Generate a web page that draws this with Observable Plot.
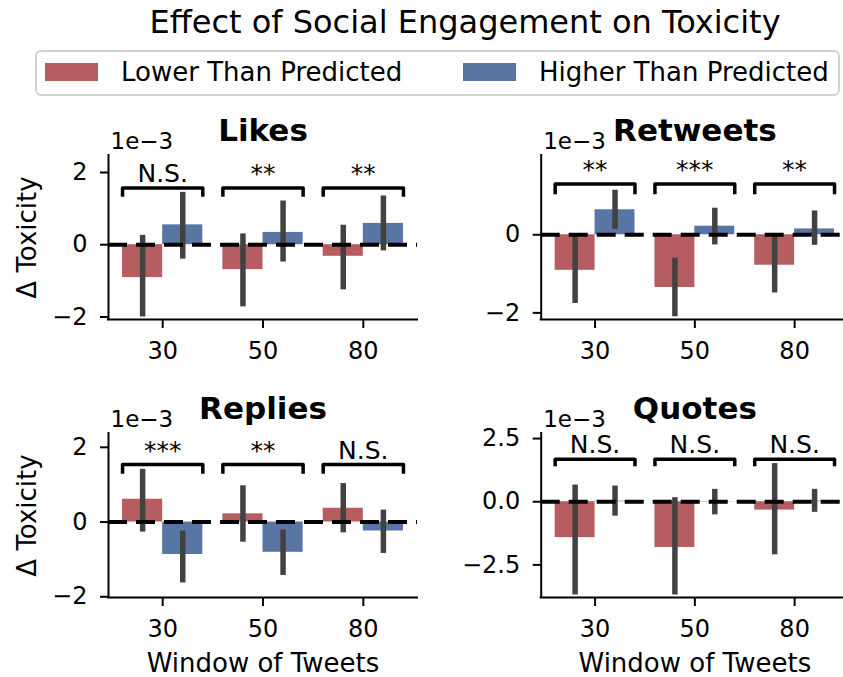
<!DOCTYPE html>
<html><head><meta charset="utf-8">
<script src="https://cdn.jsdelivr.net/npm/d3@7"></script>
<script src="https://cdn.jsdelivr.net/npm/@observablehq/plot@0.6"></script>
<style>
html,body{margin:0;padding:0;background:#fff;overflow:hidden}
#root{position:relative;width:843px;height:677px;overflow:hidden;font-family:"DejaVu Sans",sans-serif;color:#000;background:#fff}
.abs{position:absolute}
</style></head><body><div id="root"></div>
<script>
// ---- data (values in units of 1e-3) ----
const windows = ["30", "50", "80"];
const seriesNames = ["Lower Than Predicted", "Higher Than Predicted"];
const seriesColors = ["#b55d60", "#5975a4"];

const likesLower = [-0.91, -0.69, -0.32];
const likesLowerCI = [[-2.00, 0.26], [-1.72, 0.30], [-1.25, 0.54]];
const likesHigher = [0.55, 0.34, 0.59];
const likesHigherCI = [[-0.40, 1.45], [-0.48, 1.21], [-0.17, 1.35]];
const likesSig = ["N.S.", "**", "**"];

const retweetsLower = [-0.91, -1.35, -0.78];
const retweetsLowerCI = [[-1.76, -0.04], [-2.10, -0.60], [-1.49, -0.04]];
const retweetsHigher = [0.64, 0.22, 0.15];
const retweetsHigherCI = [[0.14, 1.14], [-0.26, 0.68], [-0.27, 0.61]];
const retweetsSig = ["**", "***", "**"];

const repliesLower = [0.61, 0.22, 0.37];
const repliesLowerCI = [[-0.27, 1.41], [-0.54, 0.97], [-0.29, 1.03]];
const repliesHigher = [-0.87, -0.81, -0.24];
const repliesHigherCI = [[-1.63, -0.24], [-1.43, -0.21], [-0.84, 0.32]];
const repliesSig = ["***", "**", "N.S."];

const quotesLower = [-1.42, -1.81, -0.33];
const quotesLowerCI = [[-3.69, 0.66], [-3.69, 0.16], [-2.10, 1.51]];
const quotesHigher = [0.02, 0.01, 0.02];
const quotesHigherCI = [[-0.57, 0.62], [-0.52, 0.49], [-0.42, 0.49]];
const quotesSig = ["N.S.", "N.S.", "N.S."];

const yTicksSmall = [-2, 0, 2];
const yTicksRetweets = [-2, 0];
const yTicksQuotes = [-2.5, 0, 2.5];

// ---- layout ----
const root = document.getElementById("root");
const FONT = "DejaVu Sans";

const panels = [
  {title: "Likes", lower: likesLower, lowerCI: likesLowerCI, higher: likesHigher, higherCI: likesHigherCI, sig: likesSig,
   yDomain: [-2.07, 2.47], yTicks: yTicksSmall, fmt: d3.format(".0f"), bracket: [1.33, 1.57],
   col: 0, row: 0},
  {title: "Retweets", lower: retweetsLower, lowerCI: retweetsLowerCI, higher: retweetsHigher, higherCI: retweetsHigherCI, sig: retweetsSig,
   yDomain: [-2.17, 2.03], yTicks: yTicksRetweets, fmt: d3.format(".0f"), bracket: [1.04, 1.30],
   col: 1, row: 0},
  {title: "Replies", lower: repliesLower, lowerCI: repliesLowerCI, higher: repliesHigher, higherCI: repliesHigherCI, sig: repliesSig,
   yDomain: [-2.02, 2.37], yTicks: yTicksSmall, fmt: d3.format(".0f"), bracket: [1.29, 1.54],
   col: 0, row: 1},
  {title: "Quotes", lower: quotesLower, lowerCI: quotesLowerCI, higher: quotesHigher, higherCI: quotesHigherCI, sig: quotesSig,
   yDomain: [-3.79, 2.70], yTicks: yTicksQuotes, fmt: d3.format(".1f"), bracket: [1.40, 1.68],
   col: 1, row: 1}
];

const cols = [
  {svgLeft: 0, svgWidth: 425, frame: [108, 417]},
  {svgLeft: 425, svgWidth: 423, frame: [540.7, 848]}
];
const rows = [
  {svgTop: 100, svgHeight: 275, frame: [155, 319]},
  {svgTop: 378, svgHeight: 299, frame: [433, 597]}
];

// ---- title ----
const title = document.createElement("div");
title.className = "abs";
Object.assign(title.style, {left: "65px", width: "800px", top: "6px", textAlign: "center",
  fontSize: "32px", lineHeight: "32px", whiteSpace: "nowrap"});
title.textContent = "Effect of Social Engagement on Toxicity";
root.appendChild(title);

// ---- legend ----
const legend = document.createElement("div");
legend.className = "abs";
Object.assign(legend.style, {left: "35px", top: "50px", width: "801px", height: "42px",
  border: "2px solid #d2d2d2", borderRadius: "6px", background: "rgba(255,255,255,0.8)"});
root.appendChild(legend);
const legendItems = [{sw: 45, tx: 121}, {sw: 463, tx: 539}];
seriesNames.forEach((name, k) => {
  const sw = document.createElement("div");
  sw.className = "abs";
  Object.assign(sw.style, {left: legendItems[k].sw + "px", top: "63px", width: "53px", height: "18px", background: seriesColors[k]});
  root.appendChild(sw);
  const tx = document.createElement("div");
  tx.className = "abs";
  Object.assign(tx.style, {left: legendItems[k].tx + "px", top: "59px", fontSize: "26px", lineHeight: "26px", whiteSpace: "nowrap"});
  tx.textContent = name;
  root.appendChild(tx);
});

// ---- panels ----
const xDomain = [-0.54, 2.54];
for (const p of panels) {
  const c = cols[p.col], r = rows[p.row];
  const table = windows.flatMap((w, i) => [
    {i, s: 0, series: seriesNames[0], value: p.lower[i], lo: p.lowerCI[i][0], hi: p.lowerCI[i][1]},
    {i, s: 1, series: seriesNames[1], value: p.higher[i], lo: p.higherCI[i][0], hi: p.higherCI[i][1]}
  ]);
  const sigRows = windows.map((w, i) => ({i, label: p.sig[i]}));
  const bracketPts = windows.flatMap((w, i) => [
    {i, x: i - 0.4, y: p.bracket[0]},
    {i, x: i - 0.4, y: p.bracket[1]},
    {i, x: i + 0.4, y: p.bracket[1]},
    {i, x: i + 0.4, y: p.bracket[0]}
  ]);
  const marks = [
    Plot.rectY(table, {
      x1: d => d.i + (d.s === 0 ? -0.4 : 0),
      x2: d => d.i + (d.s === 0 ? 0 : 0.4),
      y1: 0, y2: "value", fill: "series"
    }),
    Plot.ruleX(table, {
      x: d => d.i + (d.s === 0 ? -0.2 : 0.2), y1: "lo", y2: "hi",
      stroke: "#424242", strokeWidth: 5.5, strokeLinecap: "butt"
    }),
    Plot.ruleY([0], {stroke: "black", strokeWidth: 4, strokeDasharray: "19,9"}),
    Plot.line(bracketPts, {x: "x", y: "y", z: "i", stroke: "black", strokeWidth: 3.5,
      strokeLinejoin: "round", strokeLinecap: "butt"}),
    Plot.text(sigRows, {x: "i", y: () => p.bracket[1], text: "label", dy: -6, lineAnchor: "bottom",
      fontSize: 25, fill: "black"}),
    Plot.ruleX([xDomain[0]], {stroke: "black", strokeWidth: 2, strokeLinecap: "square"}),
    Plot.ruleY([p.yDomain[0]], {stroke: "black", strokeWidth: 2, strokeLinecap: "square"}),
    Plot.axisX({ticks: [0, 1, 2], tickFormat: i => windows[i], tickSize: 9, tickPadding: 13,
      fontSize: 24, strokeWidth: 2, label: null}),
    Plot.axisY({ticks: p.yTicks, tickFormat: p.fmt, tickSize: 8, tickPadding: 13,
      fontSize: 24, strokeWidth: 2, label: null}),
    Plot.text([p.title], {text: d => d, frameAnchor: "top", textAnchor: "middle", dy: -14.5, lineAnchor: "bottom",
      fontSize: 31, fontWeight: "bold"}),
    Plot.text(["1e\u22123"], {text: d => d, frameAnchor: "top-left", textAnchor: "start", dx: 2, dy: -7,
      lineAnchor: "bottom", fontSize: 23})
  ];
  if (p.col === 0) {
    marks.push(Plot.text(["\u0394 Toxicity"], {text: d => d, frameAnchor: "left", textAnchor: "middle", rotate: -90,
      dx: 35 - c.frame[0], lineAnchor: "bottom", fontSize: 26}));
  }
  if (p.row === 1) {
    marks.push(Plot.text(["Window of Tweets"], {text: d => d, frameAnchor: "bottom", textAnchor: "middle", dy: 74.5,
      lineAnchor: "bottom", fontSize: 26}));
  }
  const svg = Plot.plot({
    width: c.svgWidth, height: r.svgHeight,
    marginLeft: c.frame[0] - c.svgLeft,
    marginRight: c.svgLeft + c.svgWidth - c.frame[1],
    marginTop: r.frame[0] - r.svgTop,
    marginBottom: r.svgTop + r.svgHeight - r.frame[1],
    x: {type: "linear", domain: xDomain},
    y: {type: "linear", domain: p.yDomain},
    color: {domain: seriesNames, range: seriesColors},
    style: {fontFamily: FONT, background: "transparent", maxWidth: "none", overflow: "visible", color: "black"},
    marks
  });
  const holder = document.createElement("div");
  holder.className = "abs";
  Object.assign(holder.style, {left: c.svgLeft + "px", top: r.svgTop + "px", width: c.svgWidth + "px", height: r.svgHeight + "px"});
  holder.appendChild(svg);
  root.appendChild(holder);
}
</script></body></html>
